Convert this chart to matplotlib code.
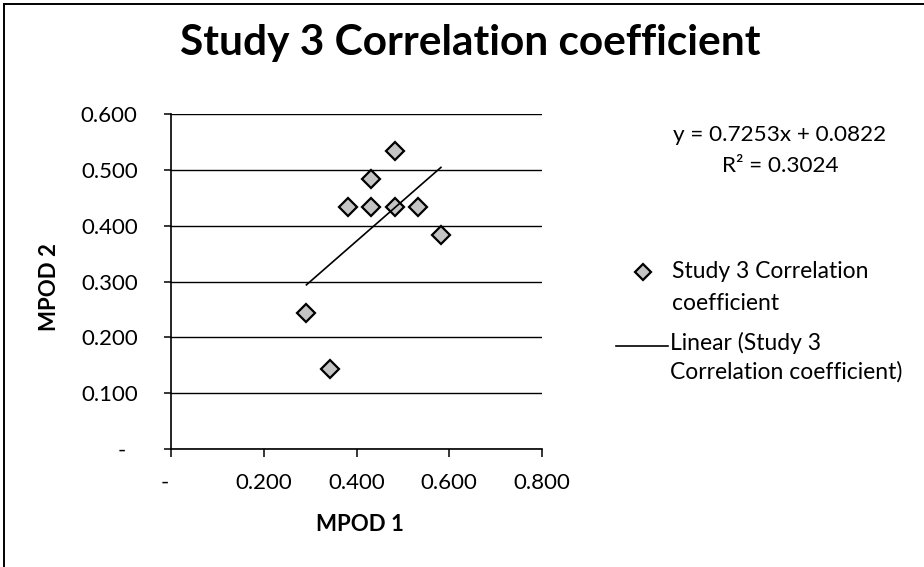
import matplotlib
matplotlib.use('Agg')
import matplotlib.pyplot as plt
from matplotlib.lines import Line2D
import numpy as np

plt.rcParams['font.family'] = ['Lato', 'DejaVu Sans']

# Data
mpod1 = [0.292, 0.342, 0.382, 0.432, 0.432, 0.482, 0.482, 0.532, 0.582]
mpod2 = [0.243, 0.143, 0.433, 0.483, 0.433, 0.433, 0.533, 0.433, 0.383]
slope = 0.7253
intercept = 0.0822
r_squared = 0.3024

x_ticks = [0.0, 0.2, 0.4, 0.6, 0.8]
x_tick_labels = ['-  ', '0.200', '0.400', '0.600', '0.800']
y_ticks = [0.0, 0.1, 0.2, 0.3, 0.4, 0.5, 0.6]
y_tick_labels = ['-  ', '0.100', '0.200', '0.300', '0.400', '0.500', '0.600']

title = 'Study 3 Correlation coefficient'

W, H = 924, 567
fig = plt.figure(figsize=(W / 100, H / 100), dpi=100)

# plot area (pixel box from the reference)
left, right, top, bottom = 171, 542, 114, 449
ax = fig.add_axes([left / W, 1 - bottom / H, (right - left) / W, (bottom - top) / H])

# scatter points
ax.plot(mpod1, mpod2, linestyle='none', marker='D', markersize=9,
        markerfacecolor='#c4c4c4', markeredgecolor='black', markeredgewidth=1.6,
        zorder=3)

# linear trendline between min and max x
xs = np.array([min(mpod1), max(mpod1)])
ax.plot(xs, slope * xs + intercept, color='black', linewidth=1.2, zorder=4)

ax.set_xlim(0, 0.8)
ax.set_ylim(0, 0.6)
ax.set_xticks(x_ticks)
ax.set_xticklabels(x_tick_labels)
ax.set_yticks(y_ticks)
ax.set_yticklabels(y_tick_labels)

# horizontal gridlines only
ax.yaxis.grid(True, color='black', linewidth=1.0)
ax.set_axisbelow(True)

for side in ['top', 'right']:
    ax.spines[side].set_visible(False)
for side in ['left', 'bottom']:
    ax.spines[side].set_linewidth(1.2)

ax.tick_params(axis='y', direction='out', length=5, width=1.1, pad=19, labelsize=16)
ax.tick_params(axis='x', direction='out', length=6, width=1.1, pad=11, labelsize=16)

ax.set_xlabel('MPOD 1', fontsize=16, fontweight='bold')
ax.xaxis.set_label_coords((360 - left) / (right - left), (bottom - 514) / (bottom - top))
ax.set_ylabel('MPOD 2', fontsize=16, fontweight='bold', va='center')
ax.yaxis.set_label_coords((50 - left) / (right - left), (bottom - 287) / (bottom - top))

# title
fig.text(470 / W, 1 - 43 / H, title, fontsize=30.5, fontweight='bold',
         ha='center', va='center')

# trendline equation
fig.text(780 / W, 1 - 135 / H, 'y = %.4fx + %.4f' % (slope, intercept),
         fontsize=16.2, ha='center', va='center')
fig.text(780 / W, 1 - 166 / H, 'R² = %.4f' % r_squared,
         fontsize=16.2, ha='center', va='center')

# legend drawn by hand (Excel style, marker beside first line)
fig.add_artist(Line2D([643 / W], [1 - 272 / H], marker='D', markersize=8,
                      markerfacecolor='#c4c4c4', markeredgecolor='black',
                      markeredgewidth=1.6, transform=fig.transFigure))
fig.text(672 / W, 1 - 272 / H, 'Study 3 Correlation', fontsize=16.5, va='center')
fig.text(672 / W, 1 - 303 / H, 'coefficient', fontsize=16.5, va='center')

fig.add_artist(Line2D([616 / W, 668 / W], [1 - 346 / H, 1 - 346 / H],
                      color='black', linewidth=1.2, transform=fig.transFigure))
fig.text(670 / W, 1 - 343 / H, 'Linear (Study 3', fontsize=16.5, va='center')
fig.text(670 / W, 1 - 372 / H, 'Correlation coefficient)', fontsize=16.5, va='center')

# chart border (only top and left edges visible in the scan)
fig.add_artist(Line2D([4 / W, 1.0], [1 - 4 / H, 1 - 4 / H], color='black',
                      linewidth=1.4, transform=fig.transFigure))
fig.add_artist(Line2D([4 / W, 4 / W], [0.0, 1 - 4 / H], color='black',
                      linewidth=1.4, transform=fig.transFigure))

fig.savefig('out.png', dpi=100)
